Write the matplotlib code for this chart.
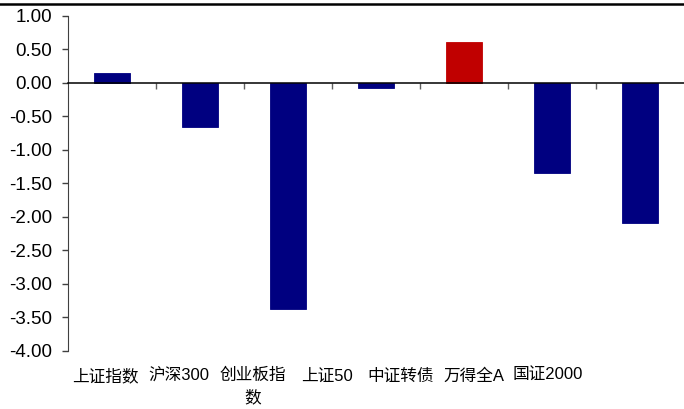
import matplotlib
matplotlib.use("Agg")
import matplotlib.pyplot as plt
from matplotlib.lines import Line2D
from matplotlib.ticker import MultipleLocator, FormatStrFormatter

plt.rcParams['font.family'] = ['Liberation Sans', 'Noto Sans CJK SC', 'DejaVu Sans']

categories = ["上证指数", "沪深300", "创业板指\n数", "上证50", "中证转债", "万得全A", "国证2000"]
values = [0.15, -0.66, -3.37, -0.08, 0.61, -1.35, -2.09]
colors = ["#000080", "#000080", "#000080", "#000080", "#c00000", "#000080", "#000080"]

fig = plt.figure(figsize=(6.84, 4.09), dpi=100)
ax = fig.add_axes([0.0994, 0.1425, 0.9006, 0.8185])

x = list(range(len(categories)))
ax.bar(x, values, width=0.42, color=colors, edgecolor=colors, linewidth=0.6, zorder=2)

ax.set_xlim(-0.5, len(categories) - 0.5)
ax.set_ylim(-4.0, 1.0)
ax.yaxis.set_major_locator(MultipleLocator(0.5))
ax.yaxis.set_major_formatter(FormatStrFormatter('%.2f'))
ax.tick_params(axis='y', direction='out', length=4, width=1, color='#404040',
               labelsize=13.5, pad=7.5)

# horizontal axis sits on zero, with tick marks between categories
for s in ['top', 'right']:
    ax.spines[s].set_visible(False)
ax.spines['left'].set_color('#404040')
ax.spines['bottom'].set_position(('data', 0))
ax.spines['bottom'].set_color('black')
ax.spines['bottom'].set_linewidth(1.1)
ax.set_xticks([i + 0.5 for i in x[:-1]])
ax.set_xticklabels([])
ax.tick_params(axis='x', direction='out', length=4, width=1, color='#606060')

# category names laid out along the bottom
step = 0.838
start = -0.074
for i, name in enumerate(categories):
    ax.text(start + i * step, -0.052, name, transform=ax.get_xaxis_transform(),
            ha='center', va='top', fontsize=12, linespacing=1.5, color='black')

fig.add_artist(Line2D([0, 1], [0.991, 0.991], transform=fig.transFigure,
                      color='black', linewidth=1.8))

fig.savefig("out.png", dpi=100)
